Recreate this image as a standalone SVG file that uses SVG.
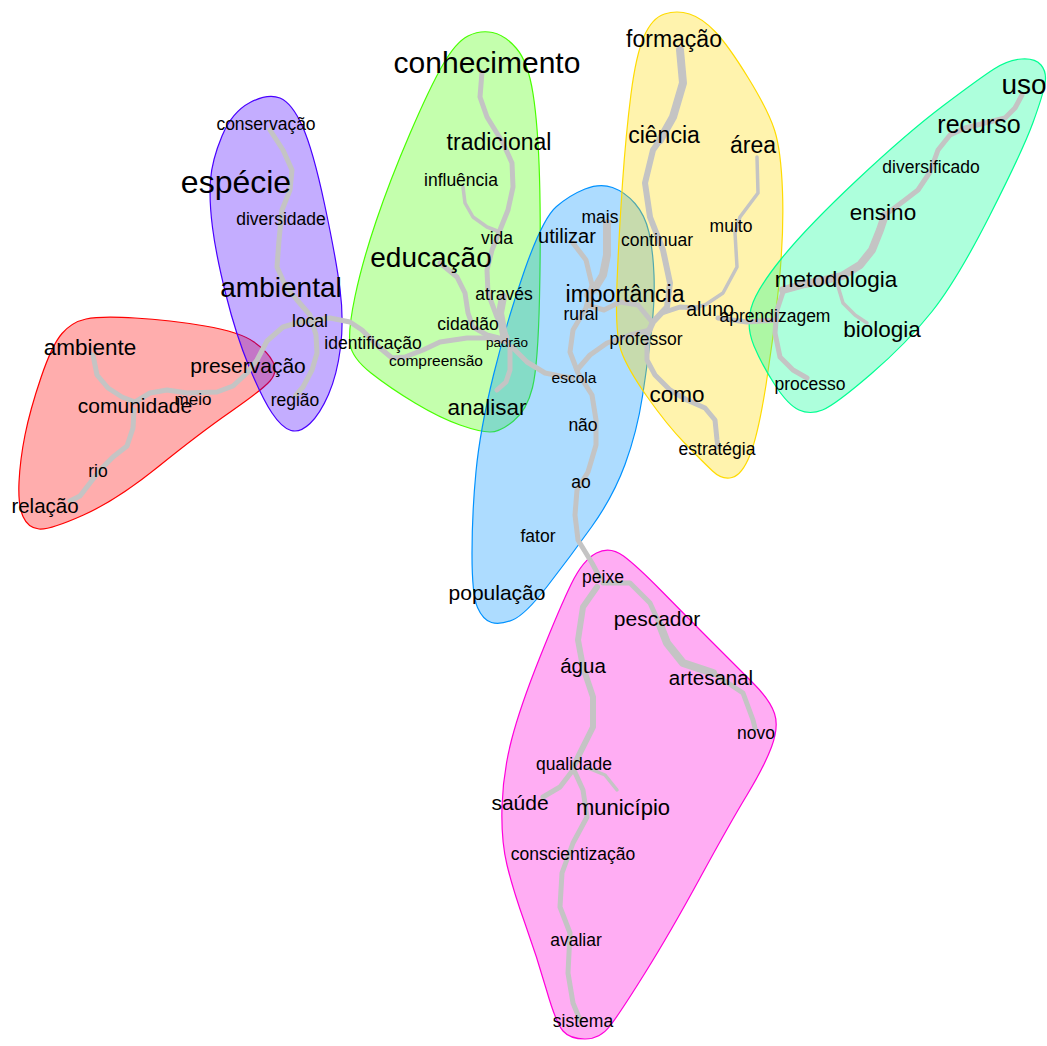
<svg xmlns="http://www.w3.org/2000/svg" width="1047" height="1046" viewBox="0 0 1047 1046">
<style>
.h{stroke-width:1.2;fill-opacity:0.32}
.e{fill:none;stroke:#c4c4c4;stroke-linecap:round;stroke-linejoin:round}
.w3{stroke-width:3.5}.w5{stroke-width:5}.w6{stroke-width:6}.w8{stroke-width:8}
text{font-family:"Liberation Sans",Arial,sans-serif;fill:#000;text-anchor:middle}
</style>
<rect width="1047" height="1046" fill="#fff"/>
<g id="hulls">
<path class="h" fill="#FF0000" stroke="#FF0000" d="M86,319 Q100,316 135,318 Q170,320 205,326 Q240,332 254,342 Q268,352 273,362 Q278,372 270,381 Q262,390 231,411.5 Q200,433 158.5,466.5 Q117,500 83.5,515 Q50,530 39,529 Q28,528 23,516.5 Q18,505 19,482.5 Q20,460 25,435 Q30,410 41,377.5 Q52,345 62,333.5 Q72,322 86,319 Z"/>
<path class="h" fill="#4900FF" stroke="#4900FF" d="M280,98 Q268,93 250,102.5 Q232,112 222,136 Q212,160 210.5,180 Q209,200 212.5,227.5 Q216,255 226,295 Q236,335 249,366.5 Q262,398 272,413 Q282,428 291,430.5 Q300,433 310,423.5 Q320,414 328.5,394.5 Q337,375 340.5,347.5 Q344,320 340,289 Q336,258 324.5,204 Q313,150 302.5,126.5 Q292,103 280,98 Z"/>
<path class="h" fill="#49FF00" stroke="#49FF00" d="M468,36 Q480,30 492.5,32.5 Q505,35 516.5,48.5 Q528,62 533,93.5 Q538,125 539.5,177.5 Q541,230 539.5,297.5 Q538,365 532.5,387.5 Q527,410 513.5,421 Q500,432 490,432 Q480,432 460,425 Q440,418 415,403 Q390,388 371,373 Q352,358 350,344 Q348,330 355,296.5 Q362,263 376,221.5 Q390,180 410,133.5 Q430,87 443,64.5 Q456,42 468,36 Z"/>
<path class="h" fill="#0092FF" stroke="#0092FF" d="M585,189 Q600,183 612.5,187.5 Q625,192 635,203.5 Q645,215 649,232.5 Q653,250 654,275 Q655,300 651.5,330 Q648,360 642.5,396 Q637,432 625,464.5 Q613,497 591.5,527 Q570,557 547.5,586 Q525,615 512.5,620 Q500,625 491.5,622.5 Q483,620 477.5,607.5 Q472,595 472,554 Q472,513 476,471.5 Q480,430 493.5,375 Q507,320 525,269 Q543,218 556.5,206.5 Q570,195 585,189 Z"/>
<path class="h" fill="#FFDB00" stroke="#FFDB00" d="M664.5,14 Q677,10 689.5,14 Q702,18 715,31.5 Q728,45 748,77.5 Q768,110 774.5,130 Q781,150 782.5,191.5 Q784,233 779,284 Q774,335 766,385 Q758,435 750,455 Q742,475 732,477.5 Q722,480 712.5,471 Q703,462 685,443.5 Q667,425 647,396.5 Q627,368 621,350.5 Q615,333 617,283 Q619,233 622.5,183 Q626,133 631,94 Q636,55 644,36.5 Q652,18 664.5,14 Z"/>
<path class="h" fill="#00FF92" stroke="#00FF92" d="M1021.5,59 Q1035,58 1041,65 Q1047,72 1045,83.5 Q1043,95 1033,122.5 Q1023,150 990,215 Q957,280 932,311.5 Q907,343 871,374 Q835,405 822.5,410 Q810,415 799,410 Q788,405 775,385 Q762,365 754,346 Q746,327 751,308.5 Q756,290 781.5,258.5 Q807,227 857,180 Q907,133 943.5,105.5 Q980,78 994,69 Q1008,60 1021.5,59 Z"/>
<path class="h" fill="#FF00DB" stroke="#FF00DB" d="M596.5,553 Q610,546 623.5,556 Q637,566 662,591.5 Q687,617 712,642 Q737,667 753.5,683.5 Q770,700 774.5,713.5 Q779,727 771.5,747 Q764,767 747,795 Q730,823 700,878 Q670,933 645,973 Q620,1013 610,1026 Q600,1039 585,1039 Q570,1039 563,1031 Q556,1023 546.5,990 Q537,957 525,923.5 Q513,890 507,865 Q501,840 502,806.5 Q503,773 511.5,740 Q520,707 540,657 Q560,607 571.5,583.5 Q583,560 596.5,553 Z"/>
</g>
<g id="edges">
<polyline class="e w5" points="93,355 97,375 108,388 122,397 135,402"/>
<polyline class="e w5" points="135,402 150,393 167,390 187,393 217,392 233,386 247,373 257,360 267,341 283,327 300,322"/>
<polyline class="e w5" points="134,410 133,428 127,446 113,457 100,470 90,483 80,496 70,501"/>
<polyline class="e w5" points="270,130 283,150 292,170 290,190 282,210 279,240 277,267 285,285 297,300 310,315 316,335 317,353 312,370 303,387 296,395"/>
<polyline class="e w5" points="300,322 330,318 350,322 362,330 380,348 392,358 405,357 423,350 440,342 467,338 487,338 507,342"/>
<polyline class="e w5" points="482,72 480,97 487,117 503,143 512,163 513,187 508,210 500,230 492,250 487,270 488,293 497,317 507,337"/>
<polyline class="e w3" points="463,187 465,203 473,217 487,227 500,232"/>
<polyline class="e w8" points="503,297 500,313 504,335"/>
<polyline class="e w5" points="440,263 457,277 465,293 468,313 473,327 487,335 507,340"/>
<polyline class="e w5" points="510,347 510,370 506,382 497,390"/>
<polyline class="e w5" points="512,347 527,362 545,373 560,376 572,378"/>
<polyline class="e w5" points="573,243 586,260 592,285 586,308 573,330 570,352 578,373 592,395 596,420 596,445 588,472 577,490 575,515 578,540 592,563 600,578"/>
<polyline class="e w8" points="607,223 607,255 603,275 595,288 588,295"/>
<polyline class="e w5" points="590,306 604,310 620,302 638,305 652,322"/>
<polyline class="e w5" points="650,330 630,335 607,343 590,355 577,370"/>
<polyline class="e w8" points="680,50 683,83 673,117 660,140"/>
<polyline class="e w6" points="660,140 653,150 645,183 650,217 663,250 670,283 667,307 653,322 647,335"/>
<polyline class="e w5" points="647,335 647,360 655,375 670,390 687,400 705,408 715,420 717,440 718,447"/>
<polyline class="e w5" points="662,313 680,307 697,308"/>
<polyline class="e w3" points="757,157 758,193 740,217 735,233 737,267 723,293 705,305 692,308"/>
<polyline class="e w5" points="718,318 747,322 777,320"/>
<polyline class="e w8" points="783,290 805,284 825,280 842,276 860,265 872,250 880,230 885,215"/>
<polyline class="e w5" points="885,215 905,200 918,190 930,172 938,150 950,135 965,128 985,123 1005,118 1015,108 1022,95"/>
<polyline class="e w5" points="783,292 777,310 775,333 780,357 793,370 807,378"/>
<polyline class="e w3" points="837,283 843,303 855,315 867,323"/>
<polyline class="e w5" points="603,583 630,583 650,603 660,625"/>
<polyline class="e w8" points="660,625 667,643 683,663 713,673"/>
<polyline class="e w5" points="713,673 743,693 753,720 755,728"/>
<polyline class="e w6" points="597,587 583,607 578,640 583,667 593,697 593,727 580,753 573,768"/>
<polyline class="e w5" points="573,768 583,790 587,817 573,843 562,873 560,907 570,933 568,973 573,1003 580,1020"/>
<polyline class="e w5" points="573,770 560,787 543,797"/>
<polyline class="e w3" points="588,768 605,775 617,790"/>
</g>
<g id="n-conhecimento"><text x="487" y="73" font-size="30">conhecimento</text></g>
<g id="n-tradicional"><text x="499" y="150" font-size="23">tradicional</text></g>
<g id="n-influencia"><text x="461" y="186" font-size="17.5">influência</text></g>
<g id="n-vida"><text x="497" y="244" font-size="17.5">vida</text></g>
<g id="n-educacao"><text x="431" y="267" font-size="28">educação</text></g>
<g id="n-atraves"><text x="504" y="300" font-size="17.5">através</text></g>
<g id="n-cidadao"><text x="468" y="330" font-size="17.5">cidadão</text></g>
<g id="n-padrao"><text x="507" y="347" font-size="13.5">padrão</text></g>
<g id="n-compreensao"><text x="436" y="366" font-size="15.5">compreensão</text></g>
<g id="n-identificacao"><text x="373" y="349" font-size="17.5">identificação</text></g>
<g id="n-analisar"><text x="487" y="415" font-size="22.5">analisar</text></g>
<g id="n-conservacao"><text x="266" y="130" font-size="17.5">conservação</text></g>
<g id="n-especie"><text x="236" y="193" font-size="32">espécie</text></g>
<g id="n-diversidade"><text x="281" y="225" font-size="17.5">diversidade</text></g>
<g id="n-ambiental"><text x="281" y="297" font-size="28">ambiental</text></g>
<g id="n-local"><text x="310" y="327" font-size="17.5">local</text></g>
<g id="n-preservacao"><text x="248" y="373" font-size="21">preservação</text></g>
<g id="n-regiao"><text x="295" y="406" font-size="17.5">região</text></g>
<g id="n-ambiente"><text x="90" y="355" font-size="22.5">ambiente</text></g>
<g id="n-comunidade"><text x="135" y="413" font-size="21">comunidade</text></g>
<g id="n-meio"><text x="193" y="405" font-size="17">meio</text></g>
<g id="n-rio"><text x="98" y="477" font-size="17.5">rio</text></g>
<g id="n-relacao"><text x="45" y="513" font-size="20.5">relação</text></g>
<g id="n-mais"><text x="600" y="223" font-size="17.5">mais</text></g>
<g id="n-utilizar"><text x="567" y="243" font-size="20">utilizar</text></g>
<g id="n-importancia"><text x="625" y="302" font-size="23">importância</text></g>
<g id="n-rural"><text x="581" y="320" font-size="17.5">rural</text></g>
<g id="n-professor"><text x="646" y="345" font-size="17.5">professor</text></g>
<g id="n-escola"><text x="574" y="383" font-size="15.5">escola</text></g>
<g id="n-nao"><text x="583" y="431" font-size="17.5">não</text></g>
<g id="n-ao"><text x="581" y="488" font-size="17.5">ao</text></g>
<g id="n-fator"><text x="538" y="542" font-size="17.5">fator</text></g>
<g id="n-populacao"><text x="497" y="600" font-size="21">população</text></g>
<g id="n-formacao"><text x="674" y="47" font-size="23">formação</text></g>
<g id="n-ciencia"><text x="664" y="143" font-size="23">ciência</text></g>
<g id="n-area"><text x="753" y="153" font-size="23">área</text></g>
<g id="n-muito"><text x="731" y="232" font-size="17.5">muito</text></g>
<g id="n-continuar"><text x="657" y="246" font-size="17.5">continuar</text></g>
<g id="n-aluno"><text x="710" y="316" font-size="19.5">aluno</text></g>
<g id="n-aprendizagem"><text x="775" y="322" font-size="17.5">aprendizagem</text></g>
<g id="n-como"><text x="677" y="402" font-size="22.5">como</text></g>
<g id="n-estrategia"><text x="717" y="455" font-size="17.5">estratégia</text></g>
<g id="n-uso"><text x="1024" y="94" font-size="28">uso</text></g>
<g id="n-recurso"><text x="979" y="133" font-size="25">recurso</text></g>
<g id="n-diversificado"><text x="931" y="173" font-size="17.5">diversificado</text></g>
<g id="n-ensino"><text x="883" y="220" font-size="22.5">ensino</text></g>
<g id="n-metodologia"><text x="836" y="287" font-size="22.5">metodologia</text></g>
<g id="n-biologia"><text x="882" y="337" font-size="22.5">biologia</text></g>
<g id="n-processo"><text x="810" y="390" font-size="17.5">processo</text></g>
<g id="n-peixe"><text x="603" y="583" font-size="17.5">peixe</text></g>
<g id="n-pescador"><text x="657" y="626" font-size="21">pescador</text></g>
<g id="n-agua"><text x="583" y="673" font-size="20.5">água</text></g>
<g id="n-artesanal"><text x="711" y="685" font-size="20.5">artesanal</text></g>
<g id="n-novo"><text x="756" y="739" font-size="17.5">novo</text></g>
<g id="n-qualidade"><text x="574" y="770" font-size="17.5">qualidade</text></g>
<g id="n-saude"><text x="520" y="810" font-size="21">saúde</text></g>
<g id="n-municipio"><text x="623" y="815" font-size="22">município</text></g>
<g id="n-conscientizacao"><text x="573" y="860" font-size="17.5">conscientização</text></g>
<g id="n-avaliar"><text x="576" y="946" font-size="17.5">avaliar</text></g>
<g id="n-sistema"><text x="583" y="1027" font-size="17.5">sistema</text></g>
</svg>
